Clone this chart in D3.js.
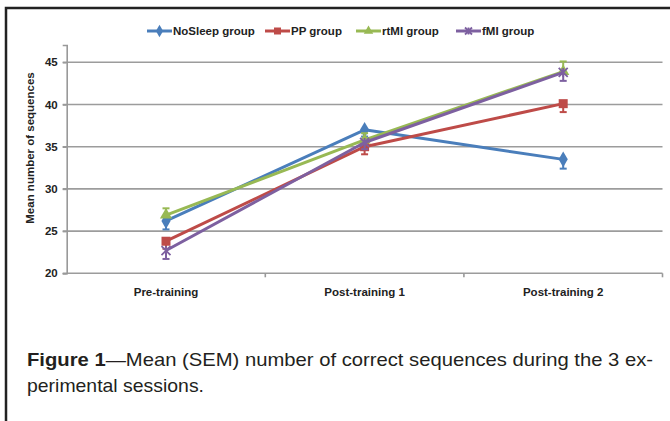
<!DOCTYPE html>
<meta charset="utf-8">
<style>
  body { margin: 0; background: #fff; }
  text { font-family: "Liberation Sans", Arial, sans-serif; }
  .axis-lbl { font-weight: bold; font-size: 11px; fill: #222; }
</style>
<svg width="670" height="421"></svg>
<script src="https://d3js.org/d3.v7.min.js"></script>
<script>

var sessions = ["Pre-training", "Post-training 1", "Post-training 2"];
var groups = ["NoSleep group", "PP group", "rtMI group", "fMI group"];
var colors = ["#4a7ebb", "#be4b48", "#98b954", "#7d60a0"];
var shapes = ["diamond", "square", "triangle", "x"];

// means
var noSleep = [26.2, 37.0, 33.5];
var pp      = [23.8, 35.0, 40.1];
var rtMI    = [26.9, 35.8, 43.9];
var fMI     = [22.7, 35.5, 43.8];
// SEM
var noSleepErr = [1.0, 0.8, 1.1];
var ppErr      = [0.9, 0.9, 1.0];
var rtMIErr    = [0.8, 0.8, 1.2];
var fMIErr     = [1.0, 0.8, 1.0];
// which side the bar is drawn on (-1 minus, +1 plus)
var errSide = [-1, -1, 1, -1];

var yTicks = [20, 25, 30, 35, 40, 45];

var series = [noSleep, pp, rtMI, fMI].map(function(v, i) {
  var err = [noSleepErr, ppErr, rtMIErr, fMIErr][i];
  return { name: groups[i], color: colors[i], shape: shapes[i], side: errSide[i],
           values: v.map(function(d, j) { return { s: sessions[j], v: d, e: err[j] }; }) };
});

var svg = d3.select("svg");

// outer frame (top + left rule)
svg.append("path")
    .attr("d", "M6,421 V8 H670")
    .attr("fill", "none")
    .attr("stroke", "#222")
    .attr("stroke-width", 2.5);

var pLeft = 66.7, pRight = 662.5, pTop = 45, pBottom = 273.3;

var x = d3.scaleBand().domain(sessions).range([pLeft, pRight]);
var y = d3.scaleLinear().domain([20, 47.05]).range([pBottom, pTop]);
function cx(s) { return x(s) + x.bandwidth() / 2; }

// gridlines
svg.append("g").selectAll("line")
  .data(yTicks)
  .enter().append("line")
    .attr("x1", pLeft - 4)
    .attr("x2", pRight)
    .attr("y1", function(d) { return y(d); })
    .attr("y2", function(d) { return y(d); })
    .attr("stroke", "#9c9c9c")
    .attr("stroke-width", 1.6);

// y axis
var yAxis = svg.append("g")
    .attr("transform", "translate(" + pLeft + ",0)")
    .call(d3.axisLeft(y).tickValues(yTicks).tickSize(4).tickPadding(5));
yAxis.select(".domain").attr("stroke", "#999").attr("stroke-width", 1.6);
yAxis.selectAll(".tick line").attr("stroke", "#999").attr("stroke-width", 1.6);
yAxis.selectAll(".tick text").attr("class", "axis-lbl").style("font-size", "11.5px");
yAxis.attr("font-family", null).attr("font-size", null);

svg.append("text")
    .attr("class", "axis-lbl")
    .attr("transform", "translate(34,148) rotate(-90)")
    .attr("text-anchor", "middle")
    .style("font-size", "11.5px")
    .text("Mean number of sequences");

// x axis: category boundary ticks
var bounds = sessions.map(function(s) { return x(s) + x.bandwidth(); });
svg.append("g").selectAll("line")
  .data(bounds)
  .enter().append("line")
    .attr("x1", function(d) { return d; })
    .attr("x2", function(d) { return d; })
    .attr("y1", pBottom)
    .attr("y2", pBottom + 4)
    .attr("stroke", "#999")
    .attr("stroke-width", 1.6);

svg.append("g").selectAll("text")
  .data(sessions)
  .enter().append("text")
    .attr("class", "axis-lbl")
    .attr("x", function(d) { return cx(d); })
    .attr("y", 296)
    .attr("text-anchor", "middle")
    .style("font-size", "11.5px")
    .text(function(d) { return d; });

function marker(sel, shape, color, size) {
  if (shape == "x") {
    var h = size / 2;
    sel.append("path")
      .attr("d", "M" + -h + "," + -h + "L" + h + "," + h + "M" + -h + "," + h + "L" + h + "," + -h + "M0," + -h + "V" + h)
      .attr("stroke", color).attr("stroke-width", 1.8).attr("fill", "none");
  } else {
    var t = { diamond: d3.symbolDiamond, square: d3.symbolSquare, triangle: d3.symbolTriangle }[shape];
    var area = { diamond: size * size * 0.9, square: size * size, triangle: size * size * 0.8 }[shape];
    sel.append("path")
      .attr("d", d3.symbol().type(t).size(area)())
      .attr("fill", color);
  }
}

var line = d3.line()
    .x(function(d) { return cx(d.s); })
    .y(function(d) { return y(d.v); });

series.forEach(function(sr) {
  var g = svg.append("g");
  // error bars (one-sided, as in the source figure)
  var eb = g.selectAll(".eb").data(sr.values).enter().append("g")
      .attr("stroke", sr.color)
      .attr("stroke-width", 2);
  eb.append("line")
      .attr("x1", function(d) { return cx(d.s); })
      .attr("x2", function(d) { return cx(d.s); })
      .attr("y1", function(d) { return y(d.v); })
      .attr("y2", function(d) { return y(d.v + sr.side * d.e); });
  eb.append("line")
      .attr("x1", function(d) { return cx(d.s) - 3.5; })
      .attr("x2", function(d) { return cx(d.s) + 3.5; })
      .attr("y1", function(d) { return y(d.v + sr.side * d.e); })
      .attr("y2", function(d) { return y(d.v + sr.side * d.e); });

  g.append("path")
      .datum(sr.values)
      .attr("d", line)
      .attr("fill", "none")
      .attr("stroke", sr.color)
      .attr("stroke-width", 3)
      .attr("stroke-linejoin", "round");

  g.selectAll(".m").data(sr.values).enter().append("g")
      .attr("transform", function(d) { return "translate(" + cx(d.s) + "," + y(d.v) + ")"; })
      .each(function() { marker(d3.select(this), sr.shape, sr.color, 9); });
});

// legend
var legendX = [147, 265, 356, 456];
var lg = svg.append("g").selectAll("g")
  .data(series)
  .enter().append("g")
    .attr("transform", function(d, i) { return "translate(" + legendX[i] + ",31)"; });
lg.append("line")
    .attr("x1", 0).attr("x2", 25)
    .attr("stroke", function(d) { return d.color; })
    .attr("stroke-width", 3);
lg.append("g")
    .attr("transform", "translate(12.5,0)")
    .each(function(d) { marker(d3.select(this), d.shape, d.color, 7); });
lg.append("text")
    .attr("class", "axis-lbl")
    .attr("x", 26)
    .attr("y", 4)
    .style("font-size", "11.5px")
    .text(function(d) { return d.name; });

// caption
var cap = svg.append("text")
    .attr("x", 27)
    .attr("y", 366)
    .attr("textLength", 626)
    .attr("lengthAdjust", "spacingAndGlyphs")
    .style("font-family", "'Liberation Sans Narrow', 'Arial Narrow', 'Liberation Sans', sans-serif")
    .style("font-size", "19px")
    .attr("fill", "#231f20");
cap.append("tspan").attr("font-weight", "bold").text("Figure 1");
cap.append("tspan").text("\u2014Mean (SEM) number of correct sequences during the 3 ex-");

svg.append("text")
    .attr("x", 27)
    .attr("y", 392)
    .attr("textLength", 177)
    .attr("lengthAdjust", "spacingAndGlyphs")
    .style("font-family", "'Liberation Sans Narrow', 'Arial Narrow', 'Liberation Sans', sans-serif")
    .style("font-size", "19px")
    .attr("fill", "#231f20")
    .text("perimental sessions.");

</script>
